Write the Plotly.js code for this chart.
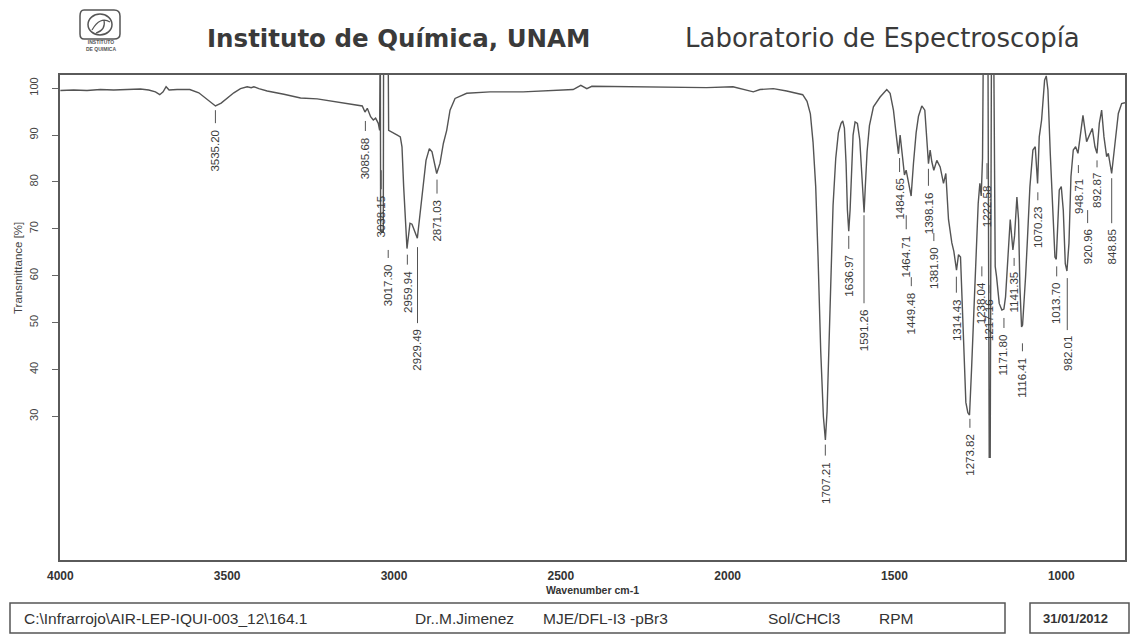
<!DOCTYPE html>
<html>
<head>
<meta charset="utf-8">
<script src="https://cdn.plot.ly/plotly-3.0.1.min.js"></script>
<style>
    html, body { margin: 0; padding: 0; background: #ffffff; }
    #irChart { width: 1133px; height: 635px; }
</style>
</head>
<body>
<div id="irChart"></div>
<script>
// IR spectrum (wavenumber cm-1 / transmittance %)
const wavenumber = [
    4000, 3960, 3920, 3880, 3840, 3800, 3760, 3735, 3715, 3702, 3692, 3683, 3674, 3650, 3612,
    3585, 3565, 3550, 3535, 3518, 3500, 3480, 3460, 3440, 3428, 3420, 3405, 3380, 3330, 3280,
    3230, 3180, 3130, 3110, 3095, 3087, 3080, 3070, 3062, 3055, 3047, 3043, 3041, 3040, 3032,
    3031, 3018, 3016, 3010, 3000, 2990, 2981, 2976, 2971, 2961, 2952, 2946, 2930, 2916, 2904,
    2894, 2886, 2872, 2862, 2852, 2842, 2832, 2817, 2782, 2712, 2613, 2562, 2463, 2440, 2422,
    2407, 2262, 2063, 1984, 1943, 1923, 1903, 1863, 1823, 1790, 1775, 1762, 1752, 1744, 1736,
    1729, 1721, 1713, 1707, 1702, 1697, 1691, 1684, 1676, 1668, 1660, 1655, 1650, 1645, 1641,
    1637, 1633, 1629, 1624, 1618, 1611, 1604, 1598, 1591, 1587, 1582, 1575, 1563, 1543, 1523,
    1513, 1503, 1494, 1488, 1483, 1477, 1470, 1465, 1458, 1450, 1443, 1435, 1428, 1418, 1409,
    1403, 1398, 1393, 1388, 1382, 1373, 1363, 1353, 1346, 1338, 1328, 1322, 1314, 1308, 1302,
    1294, 1286, 1280, 1275, 1269, 1259, 1249, 1244, 1240, 1236, 1233, 1220, 1216, 1213, 1209,
    1203, 1198, 1194, 1186, 1178, 1172, 1167, 1159, 1153, 1145, 1140, 1133, 1128, 1124, 1119,
    1116, 1112, 1107, 1102, 1094, 1085, 1078, 1071, 1066, 1059, 1050, 1045, 1040, 1033, 1025,
    1019, 1015, 1010, 1006, 1000, 994, 988, 983, 977, 971, 964, 957, 950, 943, 935,
    924, 916, 907, 899, 893, 886, 879, 872, 864, 859, 849, 839, 829, 819, 809,
];
const transmittance = [
    99.5, 99.6, 99.5, 99.7, 99.6, 99.7, 99.8, 99.6, 99.2, 98.6, 99.2, 100.3, 99.6, 99.7, 99.7,
    99.0, 97.9, 96.9, 96.2, 96.8, 97.9, 99.0, 99.9, 100.3, 100.1, 100.3, 99.9, 99.4, 98.7, 97.9,
    97.7, 97.2, 96.7, 96.5, 96.2, 94.9, 95.7, 93.9, 93.2, 93.6, 92.5, 91.0, 115, 69.5, 69.5,
    115, 115, 91.0, 90.8, 90.3, 90.0, 89.6, 87.5, 79.0, 65.8, 71.2, 71.0, 68.0, 77.5, 84.6,
    87.1, 86.4, 81.8, 84.0, 88.2, 91.0, 95.3, 97.8, 98.9, 99.2, 99.2, 99.4, 99.7, 100.6, 99.9,
    100.4, 100.3, 100.1, 100.3, 99.6, 99.2, 99.7, 99.9, 99.4, 98.9, 98.6, 97.2, 94.5, 88.5, 79.0,
    64.0, 44.0, 30.0, 25.0, 31.0, 44.0, 60.0, 75.0, 85.0, 90.5, 92.5, 93.0, 91.5, 84.0, 74.0,
    69.5, 74.0, 83.0, 90.0, 92.8, 92.5, 89.0, 82.0, 73.5, 79.5, 86.5, 92.0, 96.0, 98.1, 99.7,
    98.9, 95.3, 89.6, 86.0, 90.0, 86.3, 81.5, 82.5, 80.0, 77.0, 84.0, 90.5, 94.0, 96.2, 95.3,
    89.6, 83.9, 86.8, 84.3, 82.5, 84.6, 83.2, 79.7, 81.8, 72.0, 67.0, 65.2, 61.2, 64.5, 64.0,
    47.0, 33.0, 30.8, 30.3, 39.9, 57.6, 75.4, 79.7, 77.0, 85.0, 115, 115, 21.3, 21.3, 115,
    115, 62.0, 59.8, 54.1, 52.7, 52.9, 55.5, 64.0, 72.0, 65.5, 68.5, 76.8, 71.9, 57.6, 49.1,
    49.5, 55.5, 59.8, 66.9, 79.0, 86.8, 87.5, 79.7, 89.6, 93.2, 101.7, 102.6, 99.6, 86.1, 71.9,
    64.0, 63.5, 72.0, 78.3, 79.0, 74.0, 62.6, 61.0, 66.9, 81.1, 86.8, 87.5, 86.1, 90.3, 94.2,
    88.6, 90.0, 91.4, 87.5, 86.1, 92.5, 95.3, 89.6, 85.4, 86.1, 81.8, 88.2, 94.6, 96.7, 96.9,
];

// peak picks printed under the curve: value and the transmittance where its tick starts
const peakWn = [
    3535.20, 3085.68, 3038.15, 3017.30, 2959.94, 2929.49, 2871.03, 1707.21, 1636.97, 1591.26,
    1484.65, 1464.71, 1449.48, 1398.16, 1381.90, 1314.43, 1273.82, 1238.04, 1222.58, 1217.16,
    1171.80, 1141.35, 1116.41, 1070.23, 1013.70, 982.01, 948.71, 920.96, 892.87, 848.85,
];
const peakMarkT = [
    95.3, 93.0, 82.5, 65.5, 64.5, 66.1, 80.5, 24.0, 68.5, 72.9,
    85.1, 72.9, 59.7, 82.8, 69.1, 59.8, 29.5, 62.0, 84.0, 58.0,
    51.0, 63.8, 45.6, 77.8, 62.0, 59.5, 83.6, 74.0, 84.6, 80.8,
];

const xTicks = [4000, 3500, 3000, 2500, 2000, 1500, 1000];
const yTicks = [30, 40, 50, 60, 70, 80, 90, 100];

const footerItems = ['C:\\Infrarrojo\\AIR-LEP-IQUI-003_12\\164.1', 'Dr..M.Jimenez', 'MJE/DFL-I3 -pBr3', 'Sol/CHCl3', 'RPM'];
const footerDate = '31/01/2012';

// ---- layout only below ----
const W = 1133;
const H = 635;
const M = { l: 60, r: 8, t: 75, b: 75 };
const plotW = W - M.l - M.r;
const plotH = H - M.t - M.b;
const px2x = (px) => (px - M.l) / plotW;
const px2y = (py) => (H - M.b - py) / plotH;

// distance (px) from tick start to the top of each rotated label
const labelDrop = [17, 14, 23, 12, 14, 80, 18, 15, 17, 92, 18, 18, 13, 21, 12, 20, 13, 14, 20, 12, 14, 12, 12, 12, 14, 56, 12, 17, 11, 49];
const footerLeft = [22, 413, 541, 766, 877];

const INK = '#545454';
const NARROW = "'Liberation Sans Narrow', 'Liberation Sans', Arial, sans-serif";
const ARIAL = "'Liberation Sans', Arial, sans-serif";

const peakNotes = peakWn.map((wn, i) => ({
    x: wn,
    y: peakMarkT[i],
    xref: 'x',
    yref: 'y',
    text: wn.toFixed(2),
    textangle: -90,
    showarrow: false,
    xanchor: 'center',
    yanchor: 'top',
    yshift: -labelDrop[i],
    font: { family: NARROW, size: 11.5, color: '#3a3a3a' },
}));

const peakTicks = peakWn.map((wn, i) => ({
    type: 'line',
    xref: 'x',
    yref: 'y',
    ysizemode: 'pixel',
    yanchor: peakMarkT[i],
    x0: wn,
    x1: wn,
    y0: 0,
    y1: -(labelDrop[i] - 4),
    line: { color: INK, width: 1 },
}));

const footerNotes = footerItems.map((txt, i) => ({
    x: px2x(footerLeft[i]),
    y: px2y(618),
    xref: 'paper',
    yref: 'paper',
    text: txt,
    showarrow: false,
    xanchor: 'left',
    yanchor: 'middle',
    font: { family: ARIAL, size: 15.5, color: '#333' },
}));

const headerNotes = [
    {
        x: px2x(205), y: px2y(38), text: '<b>Instituto de Química, UNAM</b>',
        xanchor: 'left', yanchor: 'middle',
        font: { family: 'DejaVu Sans, sans-serif', size: 24.5, color: '#3a3a3a' },
    },
    {
        x: px2x(683), y: px2y(38), text: 'Laboratorio de Espectroscopía',
        xanchor: 'left', yanchor: 'middle',
        font: { family: 'DejaVu Sans, sans-serif', size: 26, color: '#3a3a3a' },
    },
    {
        x: px2x(101), y: px2y(45), text: '<b>INSTITUTO<br>DE QUIMICA</b>',
        xanchor: 'center', yanchor: 'middle',
        font: { family: ARIAL, size: 5, color: '#555' },
    },
    {
        x: px2x(18), y: px2y(268), text: 'Transmittance [%]', textangle: -90,
        xanchor: 'center', yanchor: 'middle',
        font: { family: NARROW, size: 11.5, color: '#444' },
    },
    {
        x: 0.5, y: px2y(590), text: '<b>Wavenumber cm-1</b>',
        xanchor: 'center', yanchor: 'middle',
        font: { family: ARIAL, size: 10.5, color: '#333' },
    },
    {
        x: px2x(1041), y: px2y(618), text: `<b>${footerDate}</b>`,
        xanchor: 'left', yanchor: 'middle',
        font: { family: ARIAL, size: 13, color: '#333' },
    },
].map((a) => ({ xref: 'paper', yref: 'paper', showarrow: false, ...a }));

const boxShapes = [
    [10, 603, 1005, 633],
    [1030, 603, 1129, 633],
].map(([x0, y0, x1, y1]) => ({
    type: 'rect',
    xref: 'paper',
    yref: 'paper',
    x0: px2x(x0),
    x1: px2x(x1),
    y0: px2y(y1),
    y1: px2y(y0),
    line: { color: '#555', width: 1.5 },
}));

const logoShapes = [
    {
        type: 'path',
        path: `M ${px2x(84)} ${px2y(10)} L ${px2x(114)} ${px2y(10)} Q ${px2x(120)} ${px2y(10)} ${px2x(120)} ${px2y(16)} `
            + `L ${px2x(120)} ${px2y(34)} Q ${px2x(120)} ${px2y(39)} ${px2x(114)} ${px2y(39)} L ${px2x(84)} ${px2y(39)} `
            + `Q ${px2x(80)} ${px2y(39)} ${px2x(80)} ${px2y(34)} L ${px2x(80)} ${px2y(16)} Q ${px2x(80)} ${px2y(10)} ${px2x(84)} ${px2y(10)} Z`,
        xref: 'paper',
        yref: 'paper',
        line: { color: '#555', width: 1.5 },
    },
    {
        type: 'circle',
        xref: 'paper',
        yref: 'paper',
        x0: px2x(88),
        x1: px2x(112),
        y0: px2y(35),
        y1: px2y(14),
        line: { color: '#555', width: 1.5 },
    },
    {
        type: 'path',
        path: `M ${px2x(92)} ${px2y(30)} Q ${px2x(100)} ${px2y(16)} ${px2x(110)} ${px2y(22)} M ${px2x(96)} ${px2y(33)} Q ${px2x(106)} ${px2y(30)} ${px2x(104)} ${px2y(20)}`,
        xref: 'paper',
        yref: 'paper',
        line: { color: '#555', width: 1.2 },
    },
];

Plotly.newPlot('irChart', [{
    x: wavenumber,
    y: transmittance,
    type: 'scatter',
    mode: 'lines',
    line: { color: INK, width: 1.4 },
    hoverinfo: 'skip',
}], {
    width: W,
    height: H,
    margin: M,
    paper_bgcolor: '#ffffff',
    plot_bgcolor: '#ffffff',
    showlegend: false,
    xaxis: {
        range: [4001, 809],
        tickvals: xTicks,
        ticktext: xTicks.map(String),
        ticks: '',
        showgrid: false,
        zeroline: false,
        showline: true,
        mirror: true,
        linecolor: '#5a5a5a',
        linewidth: 2,
        ticklabelstandoff: 4,
        tickfont: { family: ARIAL, size: 12, color: '#333', weight: 'bold' },
    },
    yaxis: {
        range: [-0.6, 102.8],
        tickvals: yTicks,
        ticktext: yTicks.map(String),
        ticks: 'outside',
        ticklen: 6,
        tickcolor: '#666',
        tickangle: -90,
        ticklabelstandoff: 10,
        showgrid: false,
        zeroline: false,
        showline: true,
        mirror: true,
        linecolor: '#5a5a5a',
        linewidth: 2,
        tickfont: { family: NARROW, size: 11, color: '#444' },
    },
    annotations: [...peakNotes, ...headerNotes, ...footerNotes],
    shapes: [...peakTicks, ...boxShapes, ...logoShapes],
}, {
    displayModeBar: false,
    staticPlot: true,
});
</script>
</body>
</html>
